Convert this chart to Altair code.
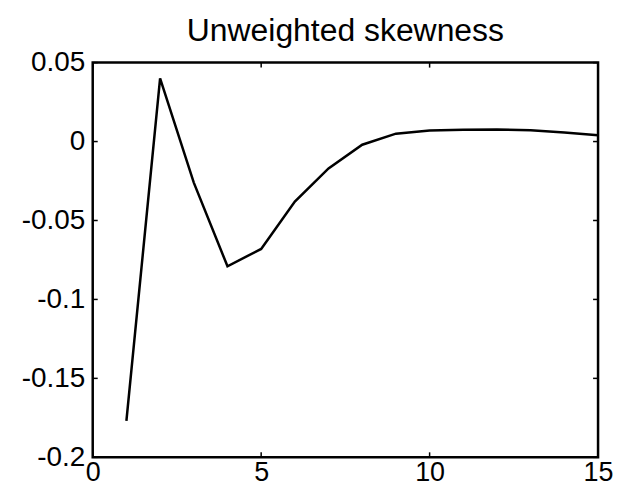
import altair as alt
import pandas as pd

lags = [1, 2, 3, 4, 5, 6, 7, 8, 9, 10, 11, 12, 13, 14, 15]
skew = [-0.177, 0.040, -0.026, -0.079, -0.068, -0.038, -0.017, -0.002,
        0.005, 0.007, 0.0075, 0.0077, 0.0072, 0.0058, 0.004]
x_ticks = [0, 5, 10, 15]
y_ticks = [0.05, 0, -0.05, -0.1, -0.15, -0.2]
title_text = ["Unweighted skewness"]

W, H = 507, 396
FONT = "Liberation Sans"

df = pd.DataFrame({"lag": lags, "skew": skew})
xt = pd.DataFrame({"t": x_ticks})
yt = pd.DataFrame({"t": y_ticks})
tt = pd.DataFrame({"title": title_text})

xs = alt.Scale(domain=[0, 15], nice=False, zero=False)
ys = alt.Scale(domain=[-0.2, 0.05], nice=False, zero=False)

line = alt.Chart(df).mark_line(color="black", strokeWidth=2.5).encode(
    x=alt.X("lag:Q", scale=xs, axis=alt.Axis(
        values=x_ticks, title=None, ticks=False, domain=False, grid=False,
        labelFontSize=27, labelFont=FONT, labelColor="black",
        labelPadding=2, labelOverlap=False, labelFlush=False, labelBound=False)),
    y=alt.Y("skew:Q", scale=ys, axis=alt.Axis(
        values=y_ticks, title=None, ticks=False, domain=False, grid=False,
        labelFontSize=28, labelFont=FONT, labelColor="black",
        labelPadding=8, labelOverlap=False, labelFlush=False, labelBound=False,
        labelExpr="'' + datum.value")),
)

bottom_ticks = alt.Chart(xt).mark_rule(color="black", strokeWidth=1.5).encode(
    x=alt.X("t:Q", scale=xs), y=alt.value(H), y2=alt.value(H - 5))
top_ticks = alt.Chart(xt).mark_rule(color="black", strokeWidth=1.5).encode(
    x=alt.X("t:Q", scale=xs), y=alt.value(0), y2=alt.value(5))
left_ticks = alt.Chart(yt).mark_rule(color="black", strokeWidth=1.5).encode(
    y=alt.Y("t:Q", scale=ys), x=alt.value(0), x2=alt.value(5))
right_ticks = alt.Chart(yt).mark_rule(color="black", strokeWidth=1.5).encode(
    y=alt.Y("t:Q", scale=ys), x=alt.value(W), x2=alt.value(W - 5))

title = alt.Chart(tt).mark_text(
    font=FONT, fontSize=32, color="black", align="center", baseline="alphabetic"
).encode(text="title:N", x=alt.value(W / 2), y=alt.value(-22))

chart = alt.layer(line, bottom_ticks, top_ticks, left_ticks, right_ticks, title).properties(
    width=W, height=H,
    background="white",
    autosize=alt.AutoSizeParams(type="none"),
    padding={"left": 85, "top": 54, "right": 16, "bottom": 29},
).configure_view(stroke="black", strokeWidth=2.5)

chart.save("out.html", embed_options={"renderer": "svg", "actions": False})
